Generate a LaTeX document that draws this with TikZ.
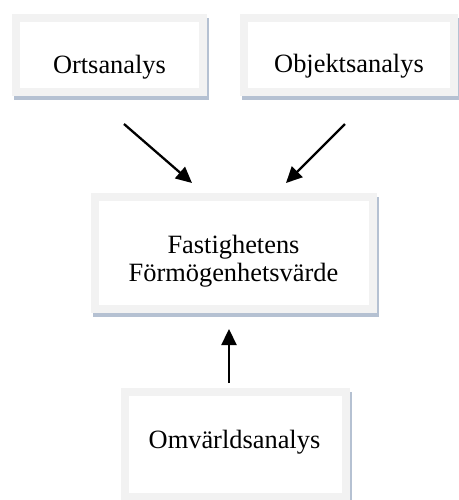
\documentclass[tikz,border=0pt]{standalone}
\usepackage{fontspec}
\setmainfont{Liberation Serif}
\usetikzlibrary{arrows.meta,shadows}
\definecolor{framegray}{RGB}{242,242,242}
\definecolor{shadowblue}{RGB}{168,182,202}
\tikzset{
  boxframe/.style={draw=framegray, line width=4pt, fill=white, inner sep=0pt,
    drop shadow={shadow xshift=1pt, shadow yshift=-2pt, fill=shadowblue,
      draw=shadowblue, line width=4pt, opacity=0.85}},
  boxtext/.style={font=\fontsize{13.2}{14.35}\selectfont, inner sep=0pt, align=center},
  flowarrow/.style={line width=1.15pt, -{Triangle[length=8pt,width=7.5pt]}}
}
\begin{document}
\begin{tikzpicture}[x=0.5pt,y=-0.5pt]
\useasboundingbox (0,0) rectangle (459,500);
% Boxes
\node[boxframe, minimum width=93.5pt, minimum height=37pt] (orts) at (109.5,55) {};
\node[boxframe, minimum width=105pt, minimum height=37pt] (objekt) at (349,55) {};
\node[boxframe, minimum width=139pt, minimum height=56pt] (fast) at (234,253) {};
\node[boxframe, minimum width=110.5pt, minimum height=52.5pt] (omv) at (235.5,444.5) {};

% Labels
\node[boxtext, anchor=base] (orts-label) at (109.5,73) {Ortsanalys};
\node[boxtext, anchor=base] (objekt-label) at (349,72) {Objektsanalys};
\node[boxtext] (fast-label) at (233.5,261.3) {Fastighetens\\Förmögenhetsvärde};
\node[boxtext, anchor=base] (omv-label) at (234.5,448) {Omvärldsanalys};

% Arrow ends
\coordinate (orts-out) at (124,124);
\coordinate (fast-in-left) at (192,183);
\coordinate (objekt-out) at (345,124);
\coordinate (fast-in-right) at (286,183);
\coordinate (omv-out) at (229,383);
\coordinate (fast-in-bottom) at (229,329);

% Arrows
\draw[flowarrow] (orts-out) -- (fast-in-left);
\draw[flowarrow] (objekt-out) -- (fast-in-right);
\draw[flowarrow] (omv-out) -- (fast-in-bottom);
\end{tikzpicture}
\end{document}
